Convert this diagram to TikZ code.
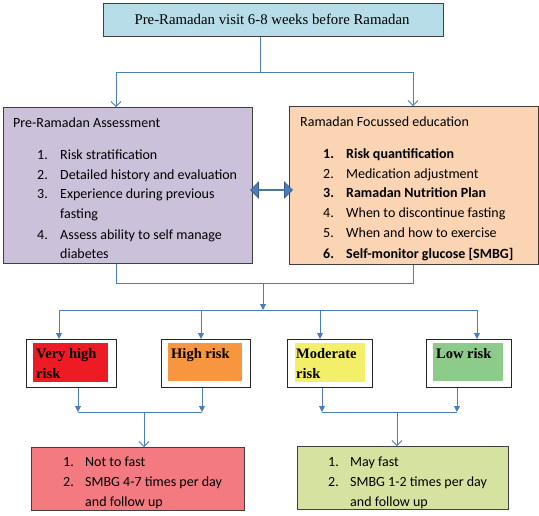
\documentclass[tikz,border=0pt]{standalone}
\usepackage{fontspec}
\setmainfont{Carlito}
\newfontfamily\tnr{Liberation Serif}
\usetikzlibrary{arrows.meta,shapes.arrows}
\definecolor{topblue}{HTML}{B7DDE8}
\definecolor{lav}{HTML}{CCC1DA}
\definecolor{peach}{HTML}{FBD4B4}
\definecolor{vred}{HTML}{ED1C24}
\definecolor{orng}{HTML}{F7963F}
\definecolor{yel}{HTML}{F4EF69}
\definecolor{grn}{HTML}{8DCB8A}
\definecolor{bred}{HTML}{F27A80}
\definecolor{bgrn}{HTML}{D6E3A0}
\definecolor{conn}{HTML}{4A7EBB}
\definecolor{edge}{HTML}{3F3F3F}
\begin{document}
\begin{tikzpicture}[x=1pt,y=-1pt,
  bigbox/.style={draw=edge,line width=0.9pt,anchor=north west,inner sep=0pt},
  riskbox/.style={draw=black!85,line width=1.4pt,fill=white,anchor=north west,inner sep=0pt,minimum width=90,minimum height=48},
  riskfill/.style={anchor=north west,inner sep=0pt,minimum height=39},
  risktxt/.style={anchor=base west,inner sep=0pt,font=\tnr\bfseries\fontsize{14.5}{20}\selectfont},
  body/.style={anchor=base west,inner sep=0pt,font=\fontsize{14}{20}\selectfont},
  bodyb/.style={body,font=\bfseries\fontsize{14}{20}\selectfont},
  ln/.style={draw=conn,line width=0.9pt},
  fa/.style={ln,-{Triangle[length=6pt,width=6pt]}},
  oa/.style={ln,-{Straight Barb[length=5pt,width=10pt,line width=0.8pt]}}]
\useasboundingbox (0,0) rectangle (539,515);

% top box
\node[bigbox,fill=topblue,minimum width=340,minimum height=33] (top) at (103,3) {};
\node[anchor=base,inner sep=0pt,font=\tnr\fontsize{14.8}{18}\selectfont] (toptxt) at (272,24) {Pre-Ramadan visit 6-8 weeks before Ramadan};

% assessment box
\node[bigbox,fill=lav,minimum width=249,minimum height=156] (assess) at (3,107) {};
\node[body] (at0) at (13,127) {Pre-Ramadan Assessment};
\node[body] (an1) at (37,159) {1.};
\node[body] (an2) at (37,179) {2.};
\node[body] (an3) at (37,198) {3.};
\node[body] (an4) at (37,239) {4.};
\node[body] (at1) at (60,159) {Risk stratification};
\node[body] (at2) at (60,179) {Detailed history and evaluation};
\node[body] (at3) at (60,198) {Experience during previous};
\node[body] (at3b) at (60,218) {fasting};
\node[body] (at4) at (60,239) {Assess ability to self manage};
\node[body] (at4b) at (60,258) {diabetes};

% education box
\node[bigbox,fill=peach,minimum width=249,minimum height=158] (educ) at (289,106) {};
\node[body] (et0) at (300,126) {Ramadan Focussed education};
\node[bodyb] (en1) at (323,158) {1.};
\node[body] (en2) at (323,178) {2.};
\node[bodyb] (en3) at (323,197) {3.};
\node[body] (en4) at (323,217) {4.};
\node[body] (en5) at (323,237) {5.};
\node[bodyb] (en6) at (323,258) {6.};
\node[bodyb] (et1) at (346,158) {Risk quantification};
\node[body] (et2) at (346,178) {Medication adjustment};
\node[bodyb] (et3) at (346,197) {Ramadan Nutrition Plan};
\node[body] (et4) at (346,217) {When to discontinue fasting};
\node[body] (et5) at (346,237) {When and how to exercise};
\node[bodyb] (et6) at (346,258) {Self-monitor glucose [SMBG]};

% double arrow
\node[double arrow,draw=conn!70!black,fill=conn,line width=0.6pt,inner sep=0pt,
  minimum height=42,minimum width=16,double arrow head extend=4,double arrow head indent=0] (dbl) at (271.5,190) {};

% risk boxes
\node[riskbox] (vh) at (26,339) {};
\node[riskfill,fill=vred,minimum width=75] (vhf) at (33,343) {};
\node[risktxt] (vht) at (36,358) {Very high};
\node[risktxt] (vht2) at (36,378) {risk};
\node[riskbox,minimum width=89] (hi) at (161,339) {};
\node[riskfill,fill=orng,minimum width=74,minimum height=38] (hif) at (168,343) {};
\node[risktxt] (hit) at (171,358) {High risk};
\node[riskbox,minimum width=85] (mo) at (287,339) {};
\node[riskfill,fill=yel,minimum width=70] (mof) at (295,343) {};
\node[risktxt] (mot) at (296,358) {Moderate};
\node[risktxt] (mot2) at (296,378) {risk};
\node[riskbox,minimum width=85] (lo) at (426,339) {};
\node[riskfill,fill=grn,minimum width=70,minimum height=38] (lof) at (433,343) {};
\node[risktxt] (lot) at (436,358) {Low risk};

% bottom boxes
\node[bigbox,fill=bred,minimum width=213,minimum height=63] (nofast) at (31,447) {};
\node[body] (nn1) at (63,466) {1.};
\node[body] (nn2) at (63,486) {2.};
\node[body] (nt1) at (85,466) {Not to fast};
\node[body] (nt2) at (85,486) {SMBG 4-7 times per day};
\begin{scope}
\clip (31,447) rectangle (244,509.5);
\node[body] (nt3) at (85,506) {and follow up};
\end{scope}
\node[bigbox,fill=bgrn,minimum width=211,minimum height=63] (mayfast) at (297,446) {};
\node[body] (mn1) at (328,466) {1.};
\node[body] (mn2) at (328,486) {2.};
\node[body] (mt1) at (350,466) {May fast};
\node[body] (mt2) at (350,486) {SMBG 1-2 times per day};
\begin{scope}
\clip (297,446) rectangle (508,508.5);
\node[body] (mt3) at (350,506) {and follow up};
\end{scope}

% connectors: top
\coordinate (j1) at (260,72);
\coordinate (j1l) at (116,72);
\coordinate (j1r) at (413,72);
\draw[ln] (top.south -| j1) -- (j1);
\draw[ln] (j1l) -- (j1r);
\draw[oa] (j1l) -- (assess.north -| j1l);
\draw[oa] (j1r) -- (educ.north -| j1r);

% connectors: merge to risk
\coordinate (j2l) at (116,283);
\coordinate (j2r) at (413,283);
\coordinate (j2) at (263,283);
\coordinate (j3) at (263,310);
\coordinate (j3a) at (59,310);
\coordinate (j3b) at (201,310);
\coordinate (j3c) at (320,310);
\coordinate (j3d) at (477,310);
\draw[ln] (assess.south -| j2l) -- (j2l) -- (j2r) -- (educ.south -| j2r);
\draw[fa] (j2) -- (j3);
\draw[ln] (j3a) -- (j3d);
\draw[fa] (j3a) -- (vh.north -| j3a);
\draw[fa] (j3b) -- (hi.north -| j3b);
\draw[fa] (j3c) -- (mo.north -| j3c);
\draw[fa] (j3d) -- (lo.north -| j3d);

% connectors: risk to outcome
\coordinate (k1) at (78,412);
\coordinate (k2) at (202,412);
\coordinate (k3) at (322,412);
\coordinate (k4) at (457,412);
\coordinate (km1) at (144,412);
\coordinate (km2) at (397,412);
\draw[fa] (vh.south -| k1) -- (k1);
\draw[fa] (hi.south -| k2) -- (k2);
\draw[fa] (mo.south -| k3) -- (k3);
\draw[fa] (lo.south -| k4) -- (k4);
\draw[ln] (k1) -- (k2);
\draw[ln] (k3) -- (k4);
\draw[oa] (km1) -- (nofast.north -| km1);
\draw[oa] (km2) -- (mayfast.north -| km2);
\end{tikzpicture}
\end{document}
